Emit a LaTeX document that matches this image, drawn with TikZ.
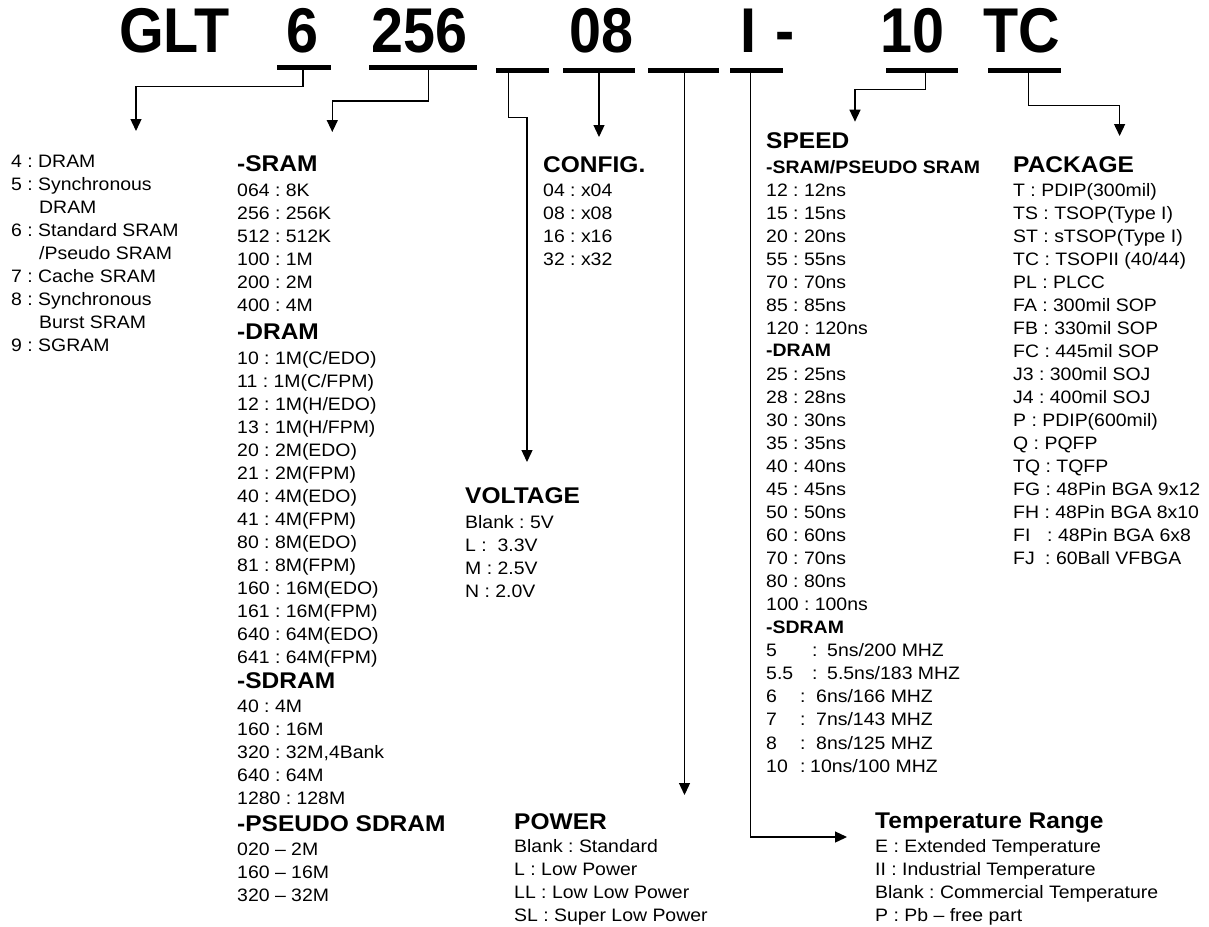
\documentclass[tikz,border=0pt]{standalone}
\usepackage{fontspec}
\setmainfont[FakeStretch=1.08]{Liberation Sans}
\newfontfamily\topfont{Liberation Sans}
\usetikzlibrary{arrows.meta}
\frenchspacing
\tikzset{
  body/.style={anchor=base west, inner sep=0pt, font=\fontsize{18}{22}\selectfont},
  head/.style={anchor=base west, inner sep=0pt, font=\fontsize{22.7}{26}\selectfont\bfseries},
  subhead/.style={anchor=base west, inner sep=0pt, font=\fontsize{18}{22}\selectfont\bfseries},
  code/.style={anchor=base west, inner sep=0pt, font=\topfont\fontsize{57.5}{60}\selectfont\bfseries},
  bar/.style={fill=black, inner sep=0pt, minimum height=4.5pt, anchor=north west},
  conn/.style={line width=1.3pt},
  arr/.style={conn, -{Triangle[length=12pt,width=11pt]}},
}
\begin{document}
\frenchspacing
\begin{tikzpicture}[x=1pt,y=-1pt]
\useasboundingbox (0,0) rectangle (1209,926);
\fill[white] (0,0) rectangle (1209,926);

% part number
\node[code] (pGLT) at (119,52) {\scalebox{1}[1.1]{GLT}};
\node[code] (p6)   at (286,52) {\scalebox{1}[1.1]{6}};
\node[code] (p256) at (371,52) {\scalebox{1}[1.1]{256}};
\node[code] (p08)  at (569,52) {\scalebox{1}[1.1]{08}};
\node[code] (pI)   at (740,52) {\scalebox{1}[1.1]{I}};
\node[code] (pdash) at (775,52) {\scalebox{1}[1.1]{-}};
\node[code] (p10)  at (880,52) {\scalebox{1}[1.1]{10}};
\node[code] (pTC)  at (983,52) {\scalebox{1}[1.1]{TC}};

% bars
\node[bar, minimum width=54pt]  (b6)   at (276.7,65) {};
\node[bar, minimum width=108pt] (b256) at (369,65) {};
\node[bar, minimum width=53pt]  (b3)   at (496,68) {};
\node[bar, minimum width=72pt]  (b08)  at (563,68) {};
\node[bar, minimum width=71pt]  (b5)   at (648,68) {};
\node[bar, minimum width=52.5pt] (bI)  at (730,68) {};
\node[bar, minimum width=72.6pt] (b10) at (885.4,68.2) {};
\node[bar, minimum width=73.4pt] (bTC) at (987.6,68.2) {};

% connector helpers
\coordinate (k6) at (303,0);     \coordinate (t6) at (136,131);
\coordinate (k256) at (428.3,0); \coordinate (t256) at (332.3,132);
\coordinate (k3) at (508.3,0);   \coordinate (t3) at (527,462);
\coordinate (t08) at (599,137);
\coordinate (t5) at (684.5,795);
\coordinate (kI) at (750.3,0);   \coordinate (tI) at (847,837);
\coordinate (k10) at (925.4,0);  \coordinate (t10) at (855,121.7);
\coordinate (kTC) at (1028.3,0); \coordinate (tTC) at (1119.6,136);

\draw[arr] (b6.south -| k6) -- ++(0,16.5) -| (t6);
\draw[arr] (b256.south -| k256) -- ++(0,31.2) -| (t256);
\draw[arr] (b3.south -| k3) -- ++(0,44.8) -| (t3);
\draw[arr] (b08.south -| t08) -- (t08);
\draw[arr] (b5.south -| t5) -- (t5);
\draw[arr] (bI.south -| kI) |- (tI);
\draw[arr] (b10.south -| k10) -- ++(0,16.6) -| (t10);
\draw[arr] (bTC.south -| kTC) -- ++(0,32.6) -| (tTC);

% column 1 : type
\node[body] (ty0) at (11,167) {4 : DRAM};
\node[body] (ty1) at (11,190) {5 : Synchronous};
\node[body] (ty2) at (39,213) {DRAM};
\node[body] (ty3) at (11,236) {6 : Standard SRAM};
\node[body] (ty4) at (39,259) {/Pseudo SRAM};
\node[body] (ty5) at (11,282) {7 : Cache SRAM};
\node[body] (ty6) at (11,305) {8 : Synchronous};
\node[body] (ty7) at (39,328) {Burst SRAM};
\node[body] (ty8) at (11,351) {9 : SGRAM};

% column 2 : density
\node[head] (hsram) at (237,171) {-SRAM};
\foreach \t [count=\i from 0] in {064 : 8K, 256 : 256K, 512 : 512K, 100 : 1M, 200 : 2M, 400 : 4M}
  \node[body] (ds\i) at (237,196+23*\i) {\t};
\node[head] (hdram) at (237,339) {-DRAM};
\foreach \t [count=\i from 0] in {10 : 1M(C/EDO), 11 : 1M(C/FPM), 12 : 1M(H/EDO), 13 : 1M(H/FPM), 20 : 2M(EDO), 21 : 2M(FPM), 40 : 4M(EDO), 41 : 4M(FPM), 80 : 8M(EDO), 81 : 8M(FPM), 160 : 16M(EDO), 161 : 16M(FPM), 640 : 64M(EDO), 641 : 64M(FPM)}
  \node[body] (dd\i) at (237,364+23*\i) {\t};
\node[head] (hsdram) at (237,688) {-SDRAM};
\foreach \t [count=\i from 0] in {40 : 4M, 160 : 16M, {320 : 32M,4Bank}, 640 : 64M, 1280 : 128M}
  \node[body] (dsd\i) at (237,712+23*\i) {\t};
\node[head] (hpsd) at (237,831) {-PSEUDO SDRAM};
\foreach \t [count=\i from 0] in {020 -- 2M, 160 -- 16M, 320 -- 32M}
  \node[body] (dps\i) at (237,855+23*\i) {\t};

% config
\node[head] (hconf) at (543,172) {CONFIG.};
\foreach \t [count=\i from 0] in {04 : x04, 08 : x08, 16 : x16, 32 : x32}
  \node[body] (cf\i) at (543,196+23.2*\i) {\t};

% voltage
\node[head] (hvolt) at (465,503.5) {VOLTAGE};
\node[body] (v0) at (465,528) {Blank : 5V};
\node[body] (v1) at (465,551.2) {L :\ \ 3.3V};
\node[body] (v2) at (465,574.4) {M : 2.5V};
\node[body] (v3) at (465,597.6) {N : 2.0V};

% power
\node[head] (hpow) at (514,829) {POWER};
\foreach \t [count=\i from 0] in {Blank : Standard, L : Low Power, LL : Low Low Power, SL : Super Low Power}
  \node[body] (pw\i) at (514,852+23*\i) {\t};

% speed
\node[head] (hspeed) at (766,148) {SPEED};
\node[subhead] (hsp1) at (766,173) {-SRAM/PSEUDO SRAM};
\foreach \t [count=\i from 0] in {12 : 12ns, 15 : 15ns, 20 : 20ns, 55 : 55ns, 70 : 70ns, 85 : 85ns, 120 : 120ns}
  \node[body] (ss\i) at (766,196+23.1*\i) {\t};
\node[subhead] (hsp2) at (766,356) {-DRAM};
\foreach \t [count=\i from 0] in {25 : 25ns, 28 : 28ns, 30 : 30ns, 35 : 35ns, 40 : 40ns, 45 : 45ns, 50 : 50ns, 60 : 60ns, 70 : 70ns, 80 : 80ns, 100 : 100ns}
  \node[body] (sd\i) at (766,380+23*\i) {\t};
\node[subhead] (hsp3) at (766,633) {-SDRAM};
\node[body] (sq0) at (766,656)   {\makebox[46pt][l]{5}:\hspace{9.6pt}5ns/200 MHZ};
\node[body] (sq1) at (766,679.3) {\makebox[46pt][l]{5.5}:\hspace{9.6pt}5.5ns/183 MHZ};
\node[body] (sq2) at (766,702.6) {\makebox[34pt][l]{6}:\hspace{10.6pt}6ns/166 MHZ};
\node[body] (sq3) at (766,725.9) {\makebox[34pt][l]{7}:\hspace{10.6pt}7ns/143 MHZ};
\node[body] (sq4) at (766,749.2) {\makebox[34pt][l]{8}:\hspace{10.6pt}8ns/125 MHZ};
\node[body] (sq5) at (766,772.5) {\makebox[34pt][l]{10}:\hspace{4.6pt}10ns/100 MHZ};

% package
\node[head] (hpkg) at (1013,172) {PACKAGE};
\foreach \t [count=\i from 0] in {T : PDIP(300mil), TS : TSOP(Type I), ST : sTSOP(Type I), TC : TSOPII (40/44), PL : PLCC, FA : 300mil SOP, FB : 330mil SOP, FC : 445mil SOP, J3 : 300mil SOJ, J4 : 400mil SOJ, P : PDIP(600mil), Q : PQFP, TQ : TQFP, FG : 48Pin BGA 9x12, FH : 48Pin BGA 8x10}
  \node[body] (pk\i) at (1013,196+23.05*\i) {\t};
\node[body] (pk15) at (1013,196+23.05*15) {\makebox[34pt][l]{FI}: 48Pin BGA 6x8};
\node[body] (pk16) at (1013,196+23.05*16) {\makebox[32pt][l]{FJ}: 60Ball VFBGA};

% temperature
\node[head] (htemp) at (875,828) {Temperature Range};
\foreach \t [count=\i from 0] in {E : Extended Temperature, II : Industrial Temperature, Blank : Commercial Temperature, P : Pb -- free part}
  \node[body] (tp\i) at (875,852+23*\i) {\t};
\end{tikzpicture}
\end{document}
